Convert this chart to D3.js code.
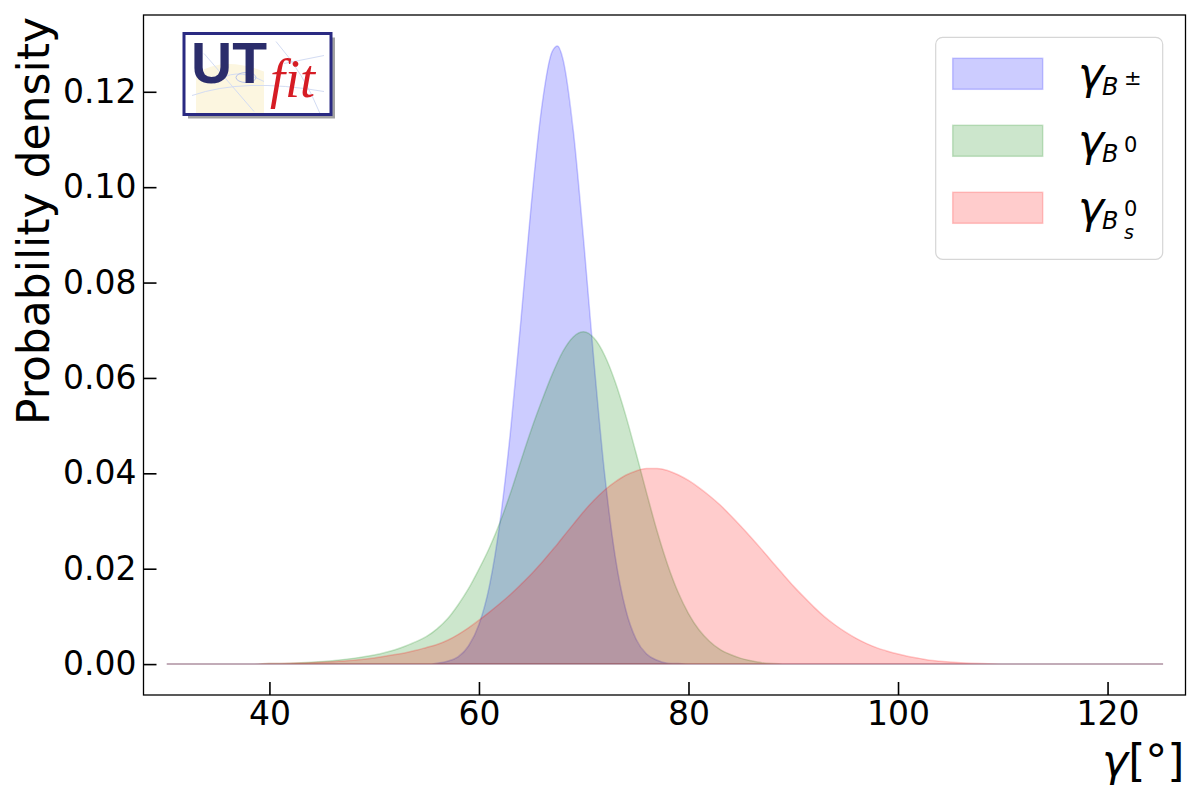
<!DOCTYPE html>
<html>
<head>
<meta charset="utf-8">
<script src="https://cdn.jsdelivr.net/npm/d3@7"></script>
<style>
  body { margin: 0; background: #fff; }
  #chart svg { display: block; }
  .tick text { font-family: "DejaVu Sans", sans-serif; font-size: 33px; fill: #000; }
</style>
</head>
<body>
<div id="chart"></div>
<script>
// gamma grid (degrees) shared by the three densities
var gammaDeg = [30.2, 34, 38, 40, 42, 44, 46, 48, 50, 52, 53, 54, 55, 56, 57, 58, 59, 60, 61, 62,
    63, 64, 65, 66, 67, 67.5, 68, 69, 70, 71, 72, 73, 74, 75, 76, 77, 78, 79, 80, 81,
    82, 83, 84, 85, 86, 87, 88, 89, 90, 91, 92, 93, 94, 95, 96, 97, 98, 99, 100, 101,
    102, 103, 104, 106, 108, 110, 115, 120, 125.3];

// probability density, B+- mesons
var pdfBpm = [0, 0, 0, 0, 0, 0, 0, 0, 0, 0, 0, 0, 0, 0.0002, 0.0006, 0.0015, 0.0038, 0.0083, 0.0164, 0.0297,
    0.0486, 0.0720, 0.0965, 0.1169, 0.1285, 0.1296, 0.1270, 0.1119, 0.0886, 0.0628, 0.0398, 0.0226, 0.0115, 0.0052, 0.0021, 0.0008, 0.0002, 0.0001, 0, 0,
    0, 0, 0, 0, 0, 0, 0, 0, 0, 0, 0, 0, 0, 0, 0, 0, 0, 0, 0, 0,
    0, 0, 0, 0, 0, 0, 0, 0, 0];

// B0 mesons
var pdfB0 = [0, 0, 0, 0.0001, 0.0002, 0.0004, 0.0007, 0.0012, 0.0019, 0.0030, 0.0038, 0.0047, 0.0058, 0.0074, 0.0095, 0.0124, 0.0158, 0.0199, 0.0244, 0.0297,
    0.0358, 0.0426, 0.0492, 0.0552, 0.0608, 0.0633, 0.0655, 0.0686, 0.0697, 0.0683, 0.0647, 0.0592, 0.0522, 0.0442, 0.0359, 0.0279, 0.0209, 0.0151, 0.0106, 0.0072,
    0.0048, 0.0031, 0.0020, 0.0012, 0.0007, 0.0003, 0.0001, 0, 0, 0, 0, 0, 0, 0, 0, 0, 0, 0, 0, 0,
    0, 0, 0, 0, 0, 0, 0, 0, 0];

// Bs0 mesons
var pdfBs = [0, 0, 0, 0.0001, 0.0002, 0.0003, 0.0005, 0.0008, 0.0013, 0.0020, 0.0024, 0.0029, 0.0035, 0.0041, 0.0050, 0.0062, 0.0076, 0.0092, 0.0109, 0.0127,
    0.0146, 0.0167, 0.0189, 0.0213, 0.0239, 0.0252, 0.0266, 0.0293, 0.0320, 0.0344, 0.0365, 0.0382, 0.0396, 0.0405, 0.0410, 0.0410, 0.0406, 0.0397, 0.0385, 0.0370,
    0.0353, 0.0334, 0.0312, 0.0289, 0.0265, 0.0240, 0.0214, 0.0189, 0.0164, 0.0141, 0.0119, 0.0099, 0.0082, 0.0067, 0.0054, 0.0043, 0.0034, 0.0027, 0.0021, 0.0016,
    0.0012, 0.0008, 0.0006, 0.0003, 0.0001, 0, 0, 0, 0];

var seriesColors = ["#0000ff", "#008000", "#ff0000"];
var xTicks = [40, 60, 80, 100, 120];
var yTicks = [0, 0.02, 0.04, 0.06, 0.08, 0.10, 0.12];


function drawChart(){

    var width = 1200,
        height = 800;

    //frame of the axes
    var left = 143.5, right = 1185.5, top = 15, bottom = 695;

    var svg = d3.select('#chart')
        .append('svg')
        .attr('width', width)
        .attr('height', height);

    var x = d3.scaleLinear()
        .domain([27.98, 127.44])
        .range([left, right]);

    var y = d3.scaleLinear()
        .domain([-0.00648, 0.1361])
        .range([bottom, top]);

    var series = [pdfBpm, pdfB0, pdfBs];

    //filled densities
    var area = d3.area()
        .curve(d3.curveMonotoneX)
        .x(function(d, i){ return x(gammaDeg[i]); })
        .y0(y(0))
        .y1(function(d){ return y(d); });

    series.forEach(function(vals, k){
        svg.append('path')
            .datum(vals)
            .attr('d', area)
            .attr('fill', seriesColors[k])
            .attr('fill-opacity', 0.2)
            .attr('stroke', seriesColors[k])
            .attr('stroke-opacity', 0.2)
            .attr('stroke-width', 1.5);
    });

    //axes with inward ticks
    var xAxis = svg.append('g')
        .attr('transform', 'translate(0,' + bottom + ')')
        .call(d3.axisBottom(x).tickValues(xTicks).tickSize(-13).tickPadding(7));

    var yAxis = svg.append('g')
        .attr('transform', 'translate(' + left + ',0)')
        .call(d3.axisLeft(y).tickValues(yTicks).tickFormat(d3.format('.2f')).tickSize(-13).tickPadding(7));

    [xAxis, yAxis].forEach(function(g){
        g.select('.domain').remove();
        g.selectAll('.tick line').attr('stroke', '#000').attr('stroke-width', 1.6);
    });

    svg.append('rect')
        .attr('x', left)
        .attr('y', top)
        .attr('width', right - left)
        .attr('height', bottom - top)
        .attr('fill', 'none')
        .attr('stroke', '#000')
        .attr('stroke-width', 1.3);

    //axis labels
    svg.append('text')
        .attr('transform', 'translate(49,221) rotate(-90)')
        .attr('text-anchor', 'middle')
        .style('font-family', 'DejaVu Sans')
        .style('font-size', '44px')
        .text('Probability density');

    var xl = svg.append('text')
        .attr('x', right - 1)
        .attr('y', 776)
        .attr('text-anchor', 'end')
        .style('font-family', 'DejaVu Sans')
        .style('font-size', '44px');
    xl.append('tspan').style('font-style', 'italic').text('γ');
    xl.append('tspan').text('[°]');

    drawLegend(svg);
    drawLogo(svg);
}


function drawLegend(svg){
    var g = svg.append('g');

    g.append('rect')
        .attr('x', 935.7)
        .attr('y', 37.3)
        .attr('width', 227)
        .attr('height', 222)
        .attr('rx', 7)
        .attr('fill', '#fff')
        .attr('fill-opacity', 0.8)
        .attr('stroke', '#d6d6d6')
        .attr('stroke-width', 1.2);

    //superscript / subscript of each label
    var sups = ['±', '0', '0'];
    var subs = [null, null, 's'];

    seriesColors.forEach(function(c, i){
        var cy = 73.8 + i * 67;

        g.append('rect')
            .attr('x', 952.7)
            .attr('y', cy - 15.5)
            .attr('width', 90)
            .attr('height', 31)
            .attr('fill', c)
            .attr('fill-opacity', 0.2)
            .attr('stroke', c)
            .attr('stroke-opacity', 0.2)
            .attr('stroke-width', 1.5);

        g.append('text')
            .attr('x', 1078)
            .attr('y', cy + 15)
            .style('font-family', 'DejaVu Sans')
            .style('font-style', 'italic')
            .style('font-size', '44px')
            .text('γ');

        g.append('text')
            .attr('x', 1102)
            .attr('y', cy + 21.5)
            .style('font-family', 'DejaVu Sans')
            .style('font-style', 'italic')
            .style('font-size', '24px')
            .text('B');

        g.append('text')
            .attr('x', 1124)
            .attr('y', cy + (subs[i] ? 8.5 : 11))
            .style('font-family', 'DejaVu Sans')
            .style('font-size', '21px')
            .text(sups[i]);

        if (subs[i]) {
            g.append('text')
                .attr('x', 1124)
                .attr('y', cy + 31)
                .style('font-family', 'DejaVu Sans')
                .style('font-style', 'italic')
                .style('font-size', '19px')
                .text(subs[i]);
        }
    });
}


function drawLogo(svg){
    var g = svg.append('g')
        .attr('transform', 'translate(184,33.5)');
    var w = 147, h = 81;

    //drop shadow
    g.append('rect')
        .attr('x', 4).attr('y', 4)
        .attr('width', w).attr('height', h)
        .attr('fill', '#555')
        .attr('opacity', 0.55);

    g.append('rect')
        .attr('width', w).attr('height', h)
        .attr('fill', '#fff');

    //faint sketch behind the letters
    g.append('path')
        .attr('d', 'M12,80 L12,40 Q40,22 80,38 L80,80 Z')
        .attr('fill', '#fcf6e0');
    g.append('path')
        .attr('d', 'M8,62 Q60,44 140,58 M20,20 L70,78 M92,8 Q120,40 136,80 M30,50 Q50,32 80,48 M100,30 L140,22')
        .attr('fill', 'none')
        .attr('stroke', '#d3dcf3')
        .attr('stroke-width', 1);
    g.append('ellipse')
        .attr('cx', 62).attr('cy', 44).attr('rx', 10).attr('ry', 5)
        .attr('fill', 'none')
        .attr('stroke', '#b7c2ea')
        .attr('stroke-width', 1);

    g.append('rect')
        .attr('width', w).attr('height', h)
        .attr('fill', 'none')
        .attr('stroke', '#2a2a82')
        .attr('stroke-width', 3);

    g.append('text')
        .attr('x', 7)
        .attr('y', 49)
        .style('font-family', 'Liberation Sans')
        .style('font-weight', 'bold')
        .style('font-size', '57px')
        .attr('fill', '#2b2d6b')
        .text('UT');

    g.append('text')
        .attr('x', 86)
        .attr('y', 63)
        .style('font-family', 'Liberation Serif')
        .style('font-style', 'italic')
        .style('font-size', '54px')
        .attr('fill', '#d61c24')
        .text('fit');
}


window.onload = drawChart;
</script>
</body>
</html>
